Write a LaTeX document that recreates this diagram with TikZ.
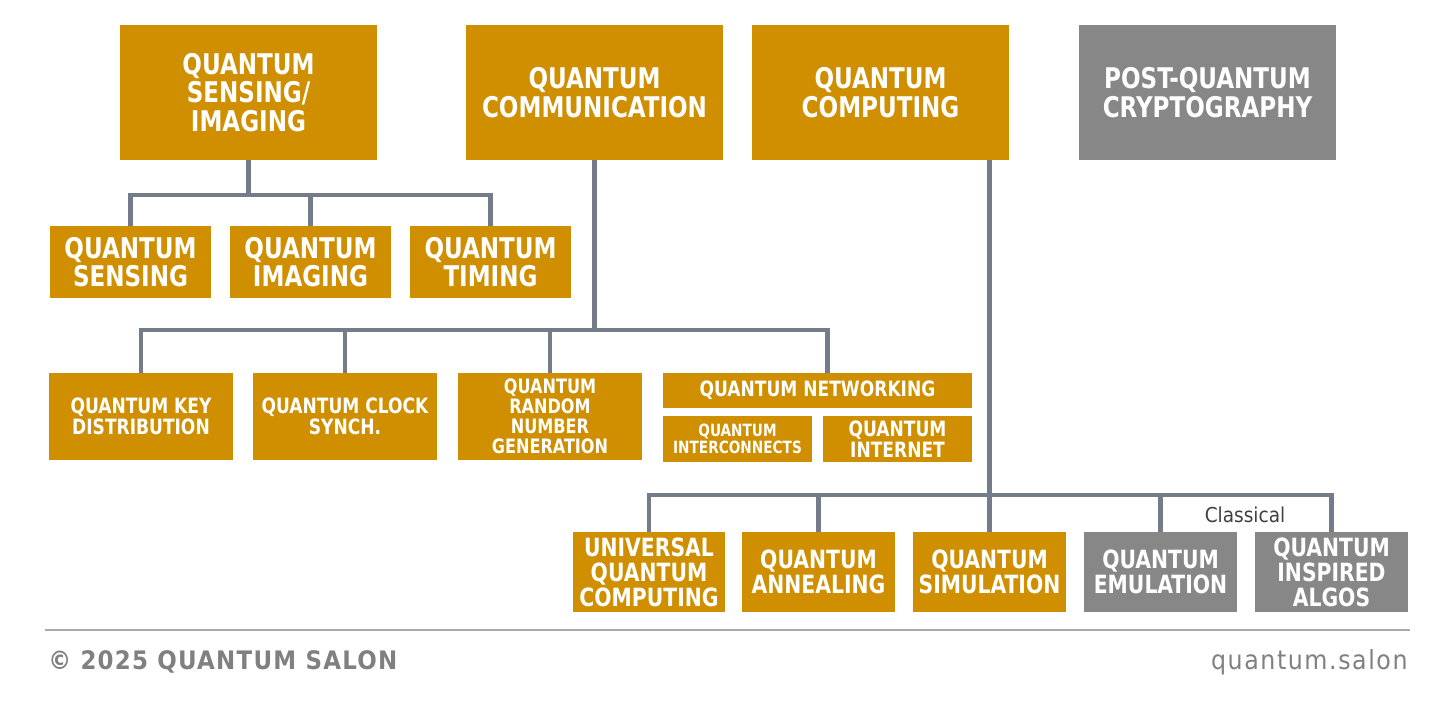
\documentclass[tikz,border=0pt]{standalone}
\usepackage{fontspec}
\setmainfont{DejaVu Sans Condensed}
\newfontfamily\boxfont[FakeStretch=0.9]{DejaVu Sans Condensed}
\usetikzlibrary{positioning}
\definecolor{qgold}{HTML}{CF8F00}
\definecolor{qgrey}{HTML}{878787}
\definecolor{qlink}{HTML}{757C89}
\definecolor{qfoot}{HTML}{808080}
\definecolor{qrule}{HTML}{AAAAAA}
\tikzset{
  box/.style={fill=qgold, text=white, inner sep=0pt, align=center, font=\boxfont\bfseries},
  greybox/.style={box, fill=qgrey},
  topbox/.style={minimum width=5.14cm, minimum height=2.7cm, font=\boxfont\bfseries\fontsize{16.2}{16.2}\selectfont},
  sensebox/.style={minimum width=3.22cm, minimum height=1.44cm, font=\boxfont\bfseries\fontsize{16.2}{16.2}\selectfont},
  commbox/.style={minimum width=3.68cm, minimum height=1.74cm, font=\boxfont\bfseries\fontsize{12}{12}\selectfont},
  netbox/.style={minimum width=2.98cm, minimum height=0.92cm, font=\boxfont\bfseries\fontsize{12}{12}\selectfont},
  compbox/.style={minimum width=3.06cm, minimum height=1.6cm, font=\boxfont\bfseries\fontsize{14.3}{14.3}\selectfont},
  link/.style={draw=qlink, line width=2.6pt}
}
\begin{document}
\begin{tikzpicture}[x=0.02cm, y=-0.02cm]
\useasboundingbox (0,0) rectangle (1456,706);

% top row
\node[box, topbox] (sense) at (248.5,92.5) {QUANTUM\\SENSING/\\IMAGING};
\node[box, topbox] (comm) at (594.5,92.5) {QUANTUM\\COMMUNICATION};
\node[box, topbox] (comp) at (880.5,92.5) {QUANTUM\\COMPUTING};
\node[greybox, topbox] (pqc) at (1207.5,92.5) {POST-QUANTUM\\CRYPTOGRAPHY};

% sensing / imaging
\node[box, sensebox] (qsens) at (130.5,262) {QUANTUM\\SENSING};
\node[box, sensebox] (qimag) at (310.5,262) {QUANTUM\\IMAGING};
\node[box, sensebox] (qtime) at (490.5,262) {QUANTUM\\TIMING};

% communication
\node[box, commbox] (qkd) at (141,416.5) {QUANTUM KEY\\DISTRIBUTION};
\node[box, commbox] (qclock) at (345,416.5) {QUANTUM CLOCK\\SYNCH.};
\node[box, commbox, font=\boxfont\bfseries\fontsize{11.3}{11.3}\selectfont] (qrng) at (550,416.5) {QUANTUM\\RANDOM\\NUMBER\\GENERATION};
\node[box, minimum width=6.18cm, minimum height=0.7cm, font=\boxfont\bfseries\fontsize{12}{12}\selectfont] (qnet) at (817.5,390.5) {QUANTUM NETWORKING};
\node[box, netbox, font=\boxfont\bfseries\fontsize{9.6}{9.6}\selectfont] (qinter) at (737.5,439) {QUANTUM\\INTERCONNECTS};
\node[box, netbox] (qinet) at (897.5,439) {QUANTUM\\INTERNET};

% computing
\node[box, compbox] (quniv) at (649,572) {UNIVERSAL\\QUANTUM\\COMPUTING};
\node[box, compbox] (qanneal) at (818.5,572) {QUANTUM\\ANNEALING};
\node[box, compbox] (qsim) at (989.5,572) {QUANTUM\\SIMULATION};
\node[greybox, compbox] (qemu) at (1160.5,572) {QUANTUM\\EMULATION};
\node[greybox, compbox] (qalgo) at (1331.5,572) {QUANTUM\\INSPIRED\\ALGOS};

% connectors
\coordinate (sbus) at (248,195);
\coordinate (cbus) at (595,330);
\coordinate (pbus) at (990,495);
\draw[link] (sense) -- (sense.south |- sbus);
\draw[link] (qsens.north) |- (qtime.north |- sbus) -- (qtime.north);
\draw[link] (qimag.north) -- (qimag.north |- sbus);

\draw[link] (comm) -- (comm.south |- cbus);
\draw[link] (qkd.north) |- ([xshift=0.2cm]qnet.north |- cbus) -- ([xshift=0.2cm]qnet.north);
\draw[link] (qclock.north) -- (qclock.north |- cbus);
\draw[link] (qrng.north) -- (qrng.north |- cbus);

\draw[link] (qsim.north |- comp.south) -- (qsim.north);
\draw[link] (quniv.north) |- (qalgo.north |- pbus) -- (qalgo.north);
\draw[link] (qanneal.north) -- (qanneal.north |- pbus);
\draw[link] (qemu.north) -- (qemu.north |- pbus);
\node[text=black!75, font=\fontsize{11.7}{12}\selectfont] (classic) at (1245,515) {Classical};

% footer
\coordinate (rulel) at (45,630);
\coordinate (ruler) at (1410,630);
\draw[qrule, line width=1.2pt] (rulel) -- (ruler);
\node[anchor=west, inner sep=0pt, text=qfoot, font=\bfseries\fontsize{14.5}{14.5}\selectfont] (copy) at (48,662) {\addfontfeature{LetterSpace=5}© 2025 QUANTUM SALON};
\node[anchor=east, inner sep=0pt, text=qfoot, font=\fontsize{15}{15}\selectfont] (site) at (1408,662) {\addfontfeature{LetterSpace=6}quantum.salon};
\end{tikzpicture}
\end{document}
